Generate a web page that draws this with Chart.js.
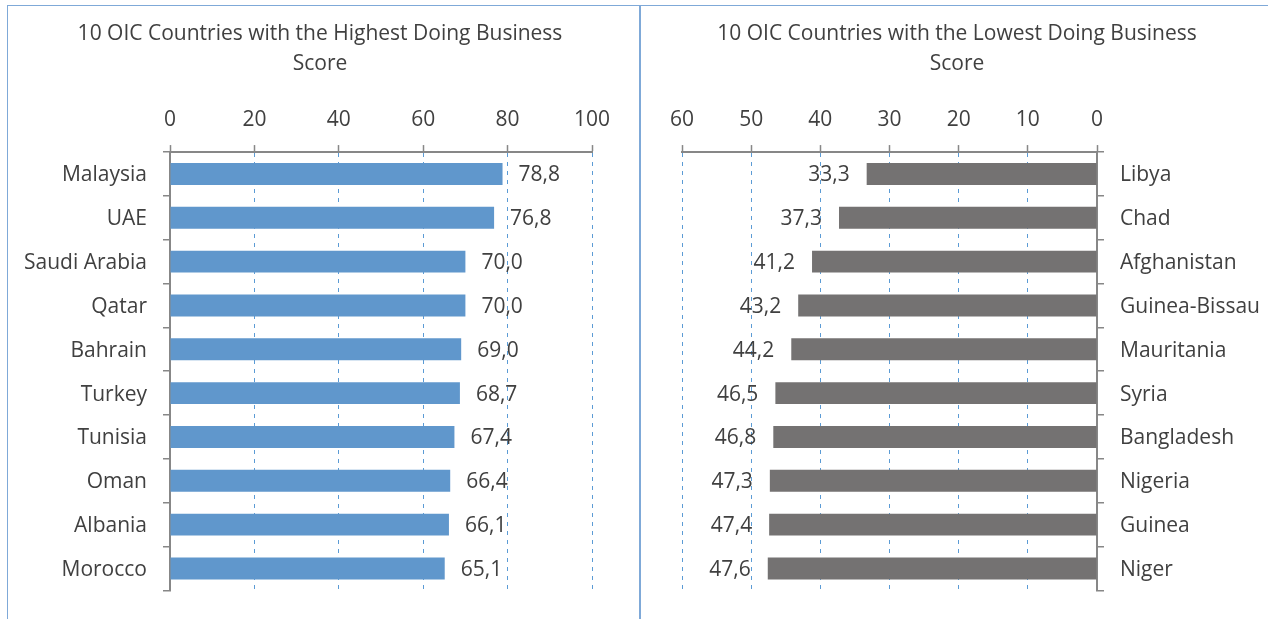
<!DOCTYPE html>
<html>
<head>
<meta charset="utf-8">
<script src="https://cdn.jsdelivr.net/npm/chart.js@4.4.1/dist/chart.umd.min.js"></script>
<style>
  html, body { margin:0; padding:0; background:#fff; width:1268px; height:619px; overflow:hidden; }
  #c1 { position:absolute; left:0; top:0; }
  #c2 { position:absolute; left:646px; top:0; }
  .ln { position:absolute; background:#7fa9d8; }
</style>
</head>
<body>
<canvas id="c1" width="640" height="619"></canvas>
<canvas id="c2" width="622" height="619"></canvas>
<div class="ln" style="left:7px;top:5px;width:1261px;height:1px;"></div>
<div class="ln" style="left:7px;top:5px;width:1px;height:614px;"></div>
<div class="ln" style="left:639px;top:5px;width:2px;height:614px;"></div>
<script>
const highCountries = ['Malaysia','UAE','Saudi Arabia','Qatar','Bahrain','Turkey','Tunisia','Oman','Albania','Morocco'];
const highScores = [78.8, 76.8, 70.0, 70.0, 69.0, 68.7, 67.4, 66.4, 66.1, 65.1];
const lowCountries = ['Libya','Chad','Afghanistan','Guinea-Bissau','Mauritania','Syria','Bangladesh','Nigeria','Guinea','Niger'];
const lowScores = [33.3, 37.3, 41.2, 43.2, 44.2, 46.5, 46.8, 47.3, 47.4, 47.6];
const highTitle = ['10 OIC Countries with the Highest Doing Business', 'Score'];
const lowTitle = ['10 OIC Countries with the Lowest Doing Business', 'Score'];

const FONT = "'Open Sans', 'Liberation Sans', sans-serif";
const TXT = '#404040';
const GRID = '#5b9bd5';
const AXIS = '#878787';
const FS = 21;
const f20 = { family: FONT, size: FS };

function labelPlugin(side) {
  return {
    id: 'valLabels',
    afterDatasetsDraw(chart) {
      const ctx = chart.ctx;
      const meta = chart.getDatasetMeta(0);
      const data = chart.data.datasets[0].data;
      ctx.save();
      ctx.font = FS + "px " + FONT;
      ctx.fillStyle = TXT;
      ctx.textBaseline = 'middle';
      meta.data.forEach((bar, i) => {
        const txt = data[i].toFixed(1).replace('.', ',');
        if (side === 'right') {
          ctx.textAlign = 'left';
          ctx.fillText(txt, bar.x + 16, bar.y + 1.5);
        } else {
          ctx.textAlign = 'right';
          ctx.fillText(txt, bar.x - 17, bar.y + 1.5);
        }
      });
      ctx.restore();
    }
  };
}

function makeChart(id, labels, values, color, title, reverse, max, step, catPos, catWidth, dummyWidth) {
  const dummyPos = catPos === 'left' ? 'right' : 'left';
  return new Chart(document.getElementById(id), {
    type: 'bar',
    data: { labels: labels, datasets: [{ data: values, backgroundColor: color, borderWidth: 0,
      categoryPercentage: 1.0, barPercentage: 0.5 }] },
    plugins: [labelPlugin(reverse ? 'left' : 'right')],
    options: {
      indexAxis: 'y',
      responsive: false,
      animation: false,
      layout: { padding: { top: 0, bottom: 27, left: 0, right: 0 } },
      plugins: {
        legend: { display: false },
        tooltip: { enabled: false },
        title: { display: true, text: title, color: TXT, font: { family: FONT, size: FS, weight: 'normal', lineHeight: 1.43 },
          padding: { top: 19, bottom: 0 } }
      },
      scales: {
        x: {
          position: 'top', min: 0, max: max, reverse: reverse,
          ticks: { stepSize: step, font: f20, color: TXT, padding: 12 },
          grid: { color: c => (c.tick && c.tick.value === 0) ? 'rgba(0,0,0,0)' : GRID, lineWidth: 1,
            tickLength: 7, tickColor: AXIS, tickWidth: 1.5 },
          border: { display: true, color: AXIS, width: 2, dash: [4, 5] },
          afterFit(s) { s.height = 152 - 19 - 60; }
        },
        y: {
          position: catPos,
          ticks: { font: f20, color: TXT, padding: 16, labelOffset: 1.5 },
          grid: { offset: true, drawOnChartArea: false, tickLength: 7, color: AXIS, lineWidth: 1.5 },
          border: { display: true, color: AXIS, width: 2 },
          afterFit(s) { s.width = catWidth; }
        },
        y2: {
          type: 'linear', position: dummyPos, display: true,
          ticks: { display: false }, grid: { display: false }, border: { display: false },
          afterFit(s) { s.width = dummyWidth; }
        }
      }
    }
  });
}

makeChart('c1', highCountries, highScores, '#6097cc', highTitle, false, 100, 20, 'left', 170, 48);
makeChart('c2', lowCountries, lowScores, '#747272', lowTitle, true, 60, 10, 'right', 171, 36);
</script>
</body>
</html>
